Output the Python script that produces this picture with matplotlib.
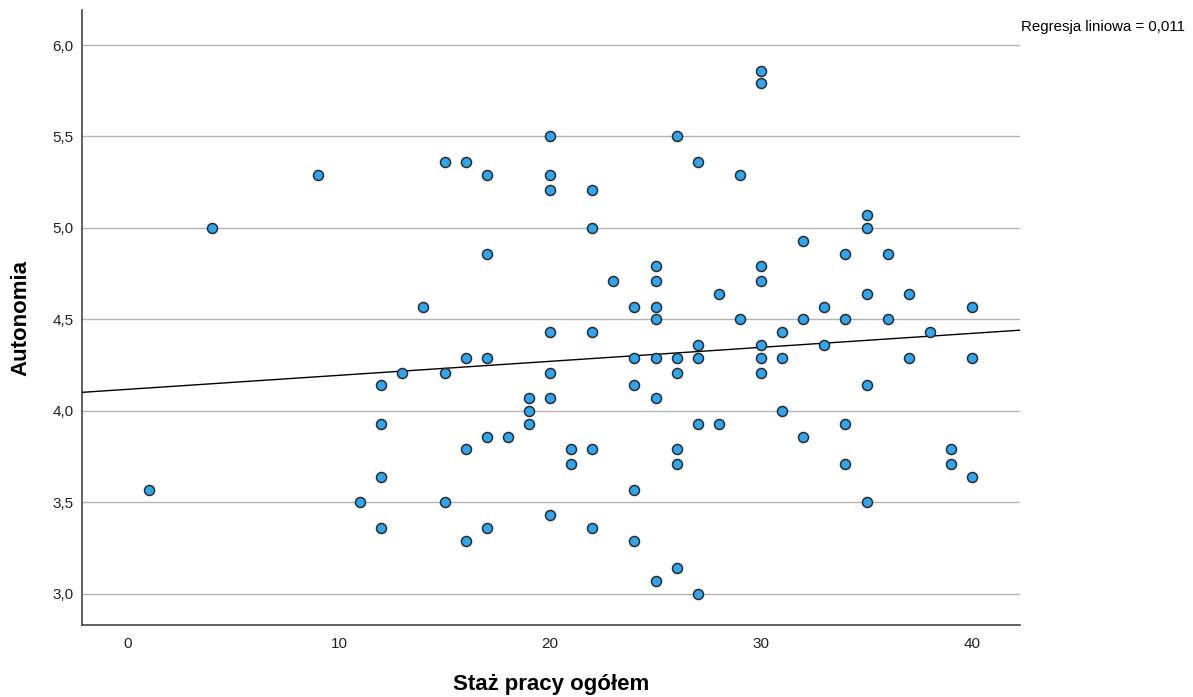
import numpy as np
import matplotlib.pyplot as plt
from matplotlib.ticker import FuncFormatter

plt.rcParams['font.family'] = ['Liberation Sans', 'DejaVu Sans']

# Staż pracy ogółem (years) and Autonomia score
staz = [1, 4, 9, 11, 12, 12, 12, 12, 13, 14,
        15, 15, 15, 16, 16, 16, 16, 17, 17, 17, 17, 17, 18,
        19, 19, 19, 20, 20, 20, 20, 20, 20, 20, 21, 21,
        22, 22, 22, 22, 22, 23, 24, 24, 24, 24, 24,
        25, 25, 25, 25, 25, 25, 25, 26, 26, 26, 26, 26, 26,
        27, 27, 27, 27, 27, 28, 28, 29, 29,
        30, 30, 30, 30, 30, 30, 30, 31, 31, 31, 32, 32, 32,
        33, 33, 34, 34, 34, 34, 35, 35, 35, 35, 35,
        36, 36, 37, 37, 38, 39, 39, 40, 40, 40]
autonomia = [3.57, 5.00, 5.29, 3.50, 4.14, 3.93, 3.64, 3.36, 4.21, 4.57,
             5.36, 4.21, 3.50, 5.36, 4.29, 3.79, 3.29, 5.29, 4.86, 4.29, 3.86, 3.36, 3.86,
             4.07, 4.00, 3.93, 5.50, 5.29, 5.21, 4.43, 4.21, 4.07, 3.43, 3.79, 3.71,
             5.21, 5.00, 4.43, 3.79, 3.36, 4.71, 4.57, 4.29, 4.14, 3.57, 3.29,
             4.79, 4.71, 4.57, 4.50, 4.29, 4.07, 3.07, 5.50, 4.29, 4.21, 3.79, 3.71, 3.14,
             5.36, 4.36, 4.29, 3.93, 3.00, 4.64, 3.93, 5.29, 4.50,
             5.86, 5.79, 4.79, 4.71, 4.36, 4.29, 4.21, 4.43, 4.29, 4.00, 4.93, 4.50, 3.86,
             4.57, 4.36, 4.86, 4.50, 3.93, 3.71, 5.07, 5.00, 4.64, 4.14, 3.50,
             4.86, 4.50, 4.64, 4.29, 4.43, 3.79, 3.71, 4.57, 4.29, 3.64]
r2_label = "Regresja liniowa = 0,011"

x = np.array(staz, dtype=float)
y = np.array(autonomia)

fig = plt.figure(figsize=(11.93, 6.97), dpi=100)
ax = fig.add_axes([0.0687, 0.1033, 0.7863, 0.882])

xlim = (-2.18, 42.27)
ax.set_xlim(xlim)
ax.set_ylim(2.83, 6.19)

# linear fit line across the full x range
slope, intercept = np.polyfit(x, y, 1)
xs = np.array(xlim)
ax.plot(xs, intercept + slope * xs, color='black', lw=1.0, zorder=3)

ax.scatter(x, y, s=52, color='#2ea6f2', edgecolors='#2b2b2b', linewidths=1.1, zorder=4)

ax.set_yticks([3.0, 3.5, 4.0, 4.5, 5.0, 5.5, 6.0])
ax.set_xticks([0, 10, 20, 30, 40])
ax.yaxis.set_major_formatter(FuncFormatter(lambda v, p: f"{v:.1f}".replace('.', ',')))
ax.grid(axis='y', color='#b4b4b4', lw=1.0)
ax.set_axisbelow(True)
ax.tick_params(length=0, labelsize=11, colors='#222222')
ax.tick_params(axis='x', pad=8.5)
ax.tick_params(axis='y', pad=6)

for s in ['top', 'right']:
    ax.spines[s].set_visible(False)
for s in ['left', 'bottom']:
    ax.spines[s].set_color('#444444')
    ax.spines[s].set_linewidth(1.2)

ax.set_xlabel("Staż pracy ogółem", fontsize=16, fontweight='bold', labelpad=17)
ax.set_ylabel("Autonomia", fontsize=16, fontweight='bold', labelpad=15)

fig.text(0.993, 0.961, r2_label, ha='right', va='center', fontsize=10.8)

fig.savefig("out.png", dpi=100)
